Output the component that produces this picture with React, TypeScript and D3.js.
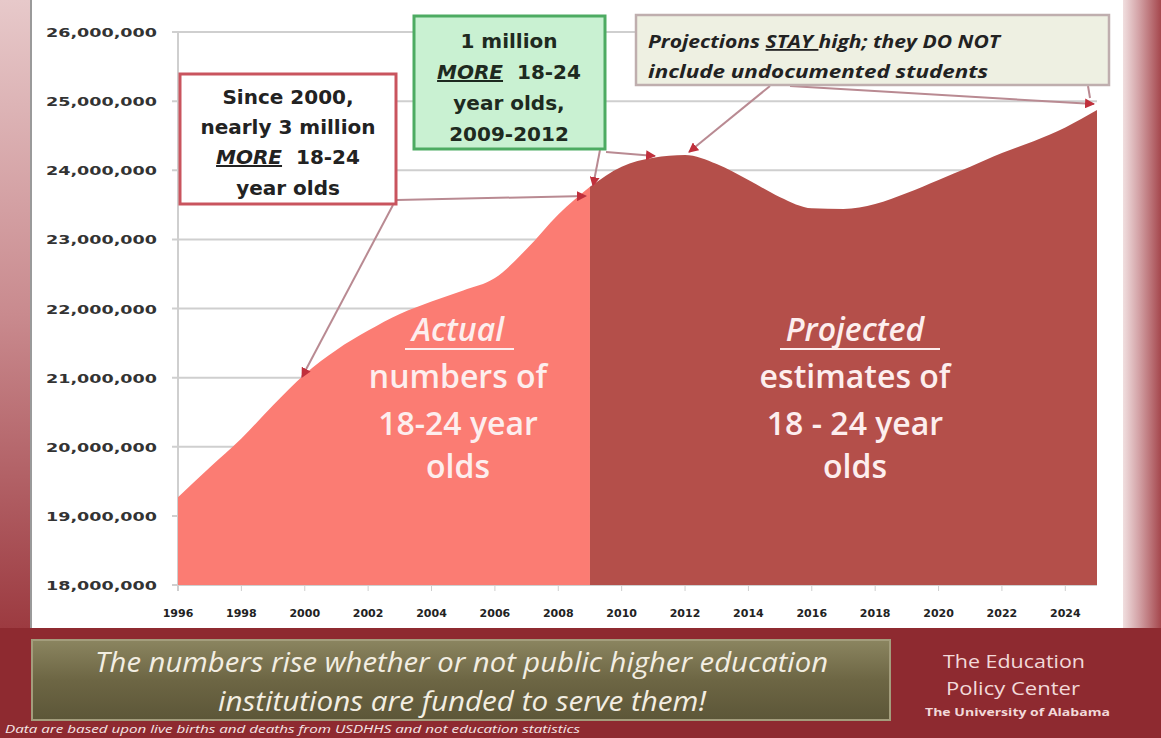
import React from 'react';
import * as d3 from 'd3';

// values (people aged 18-24)
const actualYears = [1996, 1997, 1998, 1999, 2000, 2001, 2002, 2003, 2004, 2005, 2006, 2007, 2008, 2009];
const actualValues = [19270000, 19700000, 20120000, 20600000, 21050000, 21400000, 21680000, 21920000, 22100000, 22260000, 22440000, 22860000, 23360000, 23760000];
const projectedYears = [2009, 2010, 2011, 2012, 2013, 2014, 2015, 2016, 2017, 2018, 2019, 2020, 2021, 2022, 2023, 2024, 2025];
const projectedValues = [23760000, 24050000, 24180000, 24220000, 24090000, 23860000, 23610000, 23450000, 23440000, 23510000, 23670000, 23860000, 24050000, 24250000, 24420000, 24620000, 24870000];
const yTicks = [18000000, 19000000, 20000000, 21000000, 22000000, 23000000, 24000000, 25000000, 26000000];
const xTicks = [1996, 1998, 2000, 2002, 2004, 2006, 2008, 2010, 2012, 2014, 2016, 2018, 2020, 2022, 2024];

const W = 1161;
const H = 738;

export default function App() {
  const x = d3.scaleLinear().domain([1996, 2025]).range([178, 1097]);
  const y = d3.scaleLinear().domain([18000000, 26000000]).range([585, 32]);
  const fmt = d3.format(',');

  const area = d3.area<[number, number]>()
    .x(d => x(d[0]))
    .y0(y(18000000))
    .y1(d => y(d[1]))
    .curve(d3.curveMonotoneX);

  const actualPath = area(actualYears.map((yr, i) => [yr, actualValues[i]]) as [number, number][]) || '';
  const projPath = area(projectedYears.map((yr, i) => [yr, projectedValues[i]]) as [number, number][]) || '';

  const dv = { fontFamily: 'DejaVu Sans, sans-serif', fontWeight: 700 } as const;
  const big = { fontFamily: 'Open Sans, sans-serif', fontWeight: 600, fontSize: 32, fill: '#fdeeee' } as const;
  const sp = '\u00a0\u00a0';

  return (
    <svg width={W} height={H} style={{ position: 'absolute', left: 0, top: 0 }}>
      <defs>
        <linearGradient id="leftFrame" x1="0" y1="0" x2="0" y2="1">
          <stop offset="0" stopColor="#e7c9ca" />
          <stop offset="0.5" stopColor="#c98a8e" />
          <stop offset="1" stopColor="#9c3a40" />
        </linearGradient>
        <linearGradient id="rightFrame" x1="0" y1="0" x2="1" y2="0">
          <stop offset="0" stopColor="#f6eaea" />
          <stop offset="0.45" stopColor="#d4a4a8" />
          <stop offset="1" stopColor="#a5474d" />
        </linearGradient>
        <linearGradient id="olive" x1="0" y1="0" x2="0" y2="1">
          <stop offset="0" stopColor="#8b8560" />
          <stop offset="0.5" stopColor="#6d6644" />
          <stop offset="1" stopColor="#5c5638" />
        </linearGradient>
        <marker id="arr" viewBox="0 0 10 10" refX="9" refY="5" markerWidth="5" markerHeight="5" orient="auto">
          <path d="M0,0 L10,5 L0,10 z" fill="#c0303c" />
        </marker>
      </defs>

      {/* frame */}
      <rect x={0} y={0} width={W} height={H} fill="#8e2a30" />
      <rect x={0} y={0} width={34} height={630} fill="url(#leftFrame)" />
      <rect x={1120} y={0} width={41} height={630} fill="url(#rightFrame)" />
      <rect x={31} y={0} width={1092} height={628} fill="#ffffff" />
      <line x1={31} y1={0} x2={31} y2={628} stroke="#9a9a9a" strokeWidth={2} />

      {/* grid */}
      {yTicks.map(t => (
        <g key={t}>
          <line x1={172} x2={1097} y1={y(t)} y2={y(t)} stroke="#cfcfcf" strokeWidth={2} />
          <text x={46} y={y(t) + 5} fontSize={13} fill="#333" style={dv}
            textLength={111} lengthAdjust="spacingAndGlyphs">{fmt(t)}</text>
        </g>
      ))}
      <line x1={178} x2={178} y1={32} y2={591} stroke="#cfcfcf" strokeWidth={2} />

      {/* areas */}
      <path d={actualPath} fill="#fb7c73" />
      <path d={projPath} fill="#b44f4a" />

      {xTicks.map(t => (
        <g key={t}>
          <line x1={x(t)} x2={x(t)} y1={585} y2={591} stroke="#cfcfcf" />
          <text x={x(t)} y={617} textAnchor="middle" fontSize={11} fill="#222" style={dv}>{t}</text>
        </g>
      ))}

      {/* area labels */}
      <g textAnchor="middle" style={big}>
        <text x={458} y={341} fontStyle="italic">Actual</text>
        <line x1={405} x2={514} y1={349} y2={349} stroke="#fdeeee" strokeWidth={2} />
        <text x={458} y={388}>numbers of</text>
        <text x={458} y={435}>18-24 year</text>
        <text x={458} y={478}>olds</text>
        <text x={855} y={341} fontStyle="italic">Projected</text>
        <line x1={780} x2={940} y1={349} y2={349} stroke="#fdeeee" strokeWidth={2} />
        <text x={855} y={388}>estimates of</text>
        <text x={855} y={435}>18 - 24 year</text>
        <text x={855} y={478}>olds</text>
      </g>

      {/* arrows */}
      <g stroke="#b98a92" strokeWidth={2} fill="none" markerEnd="url(#arr)">
        <line x1={393} y1={205} x2={302} y2={377} />
        <line x1={397} y1={200} x2={586} y2={196} />
        <line x1={600} y1={150} x2={593} y2={186} />
        <line x1={606} y1={152} x2={655} y2={156} />
        <line x1={770} y1={86} x2={689} y2={152} />
        <line x1={790} y1={86} x2={1094} y2={104} />
      </g>
      <line x1={1088} y1={86} x2={1090} y2={98} stroke="#b98a92" strokeWidth={2} />

      {/* annotation: since 2000 */}
      <rect x={180} y={74} width={216} height={130} fill="#fff" stroke="#c9545e" strokeWidth={3} />
      <g textAnchor="middle" fontSize={20} fill="#222" style={dv}>
        <text x={288} y={104}>Since 2000,</text>
        <text x={288} y={134}>nearly 3 million</text>
        <text x={288} y={164}><tspan fontStyle="italic" textDecoration="underline">MORE</tspan>{sp}18-24</text>
        <text x={288} y={195}>year olds</text>
      </g>

      {/* annotation: 1 million */}
      <rect x={414} y={16} width={191} height={133} fill="#c9f1d2" stroke="#4dab62" strokeWidth={3} />
      <g textAnchor="middle" fontSize={20} fill="#1e2a20" style={dv}>
        <text x={509} y={48}>1 million</text>
        <text x={509} y={79}><tspan fontStyle="italic" textDecoration="underline">MORE</tspan>{sp}18-24</text>
        <text x={509} y={110}>year olds,</text>
        <text x={509} y={141}>2009-2012</text>
      </g>

      {/* annotation: projections */}
      <rect x={636} y={15} width={473} height={70} fill="#eef0e2" stroke="#bfaeae" strokeWidth={2.5} />
      <g fontSize={18} fill="#222" style={{ fontFamily: 'Open Sans, sans-serif', fontWeight: 700, fontStyle: 'italic' }}>
        <text x={648} y={48} textLength={352} lengthAdjust="spacingAndGlyphs">Projections <tspan textDecoration="underline">STAY </tspan>high; they DO NOT</text>
        <text x={648} y={78} textLength={340} lengthAdjust="spacingAndGlyphs">include undocumented students</text>
      </g>

      {/* bottom banner */}
      <rect x={0} y={628} width={W} height={110} fill="#8e2a30" />
      <rect x={32} y={640} width={858} height={80} fill="url(#olive)" stroke="#a39d7c" strokeWidth={2} />
      <g fontSize={27} fill="#f3eee2" style={{ fontFamily: 'Open Sans, sans-serif', fontStyle: 'italic', fontWeight: 400 }}>
        <text x={95} y={672} textLength={733} lengthAdjust="spacingAndGlyphs">The numbers rise whether or not public higher education</text>
        <text x={218} y={711} textLength={488} lengthAdjust="spacingAndGlyphs">institutions are funded to serve them!</text>
      </g>
      <g fill="#f2d9d9" style={{ fontFamily: 'Open Sans, sans-serif' }}>
        <text x={943} y={668} fontSize={19} textLength={142} lengthAdjust="spacingAndGlyphs">The Education</text>
        <text x={946} y={695} fontSize={19} textLength={134} lengthAdjust="spacingAndGlyphs">Policy Center</text>
        <text x={925} y={716} fontSize={11} fontWeight={700} textLength={185} lengthAdjust="spacingAndGlyphs">The University of Alabama</text>
      </g>
      <text x={5} y={733} fontSize={10} fill="#f5e6e6" textLength={575} lengthAdjust="spacingAndGlyphs"
        style={{ fontFamily: 'Open Sans, sans-serif', fontStyle: 'italic' }}>
        Data are based upon live births and deaths from USDHHS and not education statistics
      </text>
    </svg>
  );
}
